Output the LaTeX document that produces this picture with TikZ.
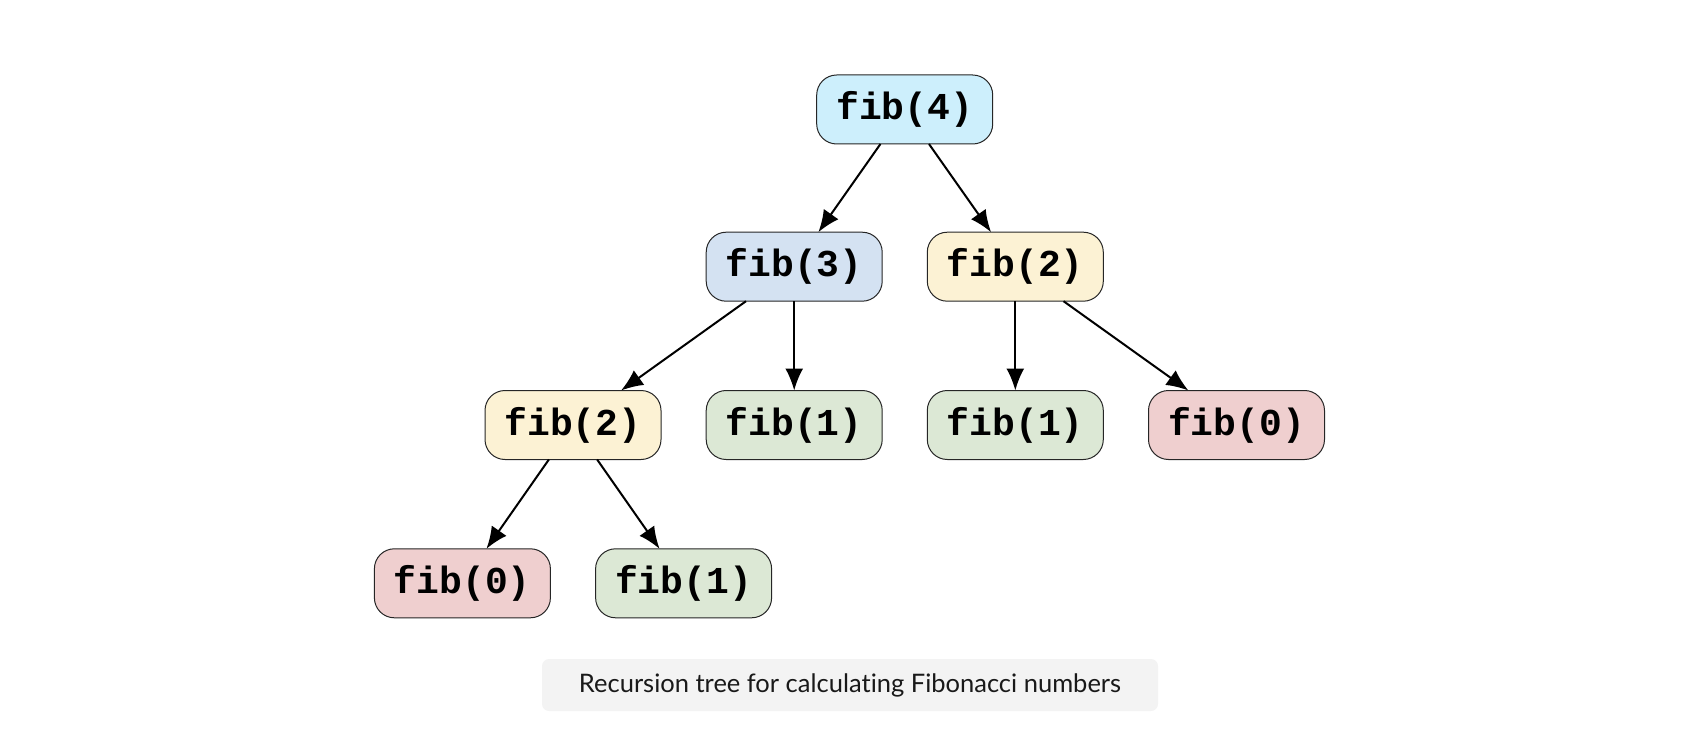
\documentclass[tikz,border=0pt]{standalone}
\usepackage{fontspec}
\setmainfont[Ligatures=NoCommon]{Lato}
\newfontfamily\codefont{Liberation Mono}
\usetikzlibrary{arrows.meta}
\definecolor{cblue}{HTML}{CDEFFC}
\definecolor{csteel}{HTML}{D4E2F2}
\definecolor{cyellow}{HTML}{FCF2D4}
\definecolor{cgreen}{HTML}{DCE8D5}
\definecolor{cred}{HTML}{EFCFCF}
\definecolor{cgray}{HTML}{F3F3F3}
\tikzset{
  fibnode/.style={draw=black!85, line width=1pt, rounded corners=20pt,
    minimum width=176pt, minimum height=69pt, inner sep=0pt, outer sep=0pt,
    font=\codefont\bfseries\fontsize{38}{42}\selectfont},
  callarrow/.style={line width=2pt, -{Latex[length=22pt,width=18pt]}},
  captionbox/.style={fill=cgray, rounded corners=7pt, minimum width=616pt,
    minimum height=52pt, inner sep=0pt, text=black!90,
    font=\fontsize{25.5}{30}\selectfont}
}
\begin{document}
\begin{tikzpicture}[x=1pt,y=-1pt]
\useasboundingbox (0,0) rectangle (1700,730);
\node[fibnode, fill=cblue]   (f4)   at (904.7,109.5) {fib(4)};
\node[fibnode, fill=csteel]  (f3)   at (794.2,266.7) {fib(3)};
\node[fibnode, fill=cyellow] (f2r)  at (1015.3,266.7) {fib(2)};
\node[fibnode, fill=cyellow] (f2l)  at (573,425) {fib(2)};
\node[fibnode, fill=cgreen]  (f1a)  at (794.2,425) {fib(1)};
\node[fibnode, fill=cgreen]  (f1b)  at (1015.3,425) {fib(1)};
\node[fibnode, fill=cred]    (f0a)  at (1236.5,425) {fib(0)};
\node[fibnode, fill=cred]    (f0b)  at (462.4,583.3) {fib(0)};
\node[fibnode, fill=cgreen]  (f1c)  at (683.6,583.3) {fib(1)};
\node[captionbox] (cap) at (850,685) {Recursion tree for calculating Fibonacci numbers};
\draw[callarrow] (f4) -- (f3);
\draw[callarrow] (f4) -- (f2r);
\draw[callarrow] (f3) -- (f2l);
\draw[callarrow] (f3) -- (f1a);
\draw[callarrow] (f2r) -- (f1b);
\draw[callarrow] (f2r) -- (f0a);
\draw[callarrow] (f2l) -- (f0b);
\draw[callarrow] (f2l) -- (f1c);
\end{tikzpicture}
\end{document}
